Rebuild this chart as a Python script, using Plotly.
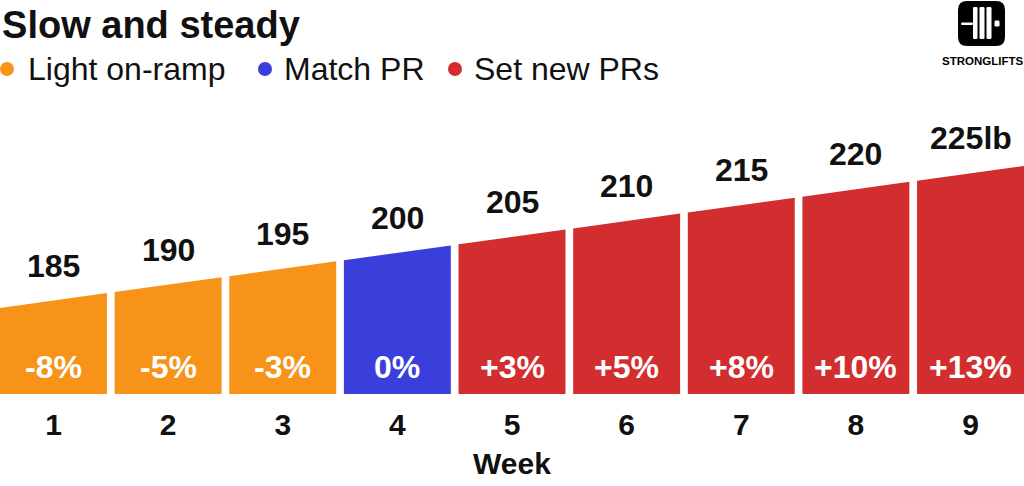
import plotly.graph_objects as go

# data
weeks = [1, 2, 3, 4, 5, 6, 7, 8, 9]
weights = [185, 190, 195, 200, 205, 210, 215, 220, 225]
pct_change = [-8, -5, -3, 0, 3, 5, 8, 10, 13]
phases = ['Light on-ramp', 'Light on-ramp', 'Light on-ramp', 'Match PR',
          'Set new PRs', 'Set new PRs', 'Set new PRs', 'Set new PRs', 'Set new PRs']
phase_names = ['Light on-ramp', 'Match PR', 'Set new PRs']

colors = {'Light on-ramp': '#F8931A', 'Match PR': '#3A3EDB', 'Set new PRs': '#D22E2F'}

W, H = 1024, 486
M_T, M_B = 90, 92
PLOT_H = H - M_T - M_B
Y_BASE = 155.6
PX_PER_LB = 3.18
Y_TOP = Y_BASE + PLOT_H / PX_PER_LB
HALF_W = 0.4665
FONT = 'Liberation Sans, Arial, sans-serif'

# top of every bar follows one straight ramp across the chart
slope = (weights[-1] - weights[0]) / (weeks[-1] - weeks[0])


def px(x):
    return x / W


def py(y):
    return (H - M_B - y) / PLOT_H


fig = go.Figure()

for wk, w, ph in zip(weeks, weights, phases):
    x0, x1 = wk - HALF_W, wk + HALF_W
    fig.add_trace(go.Scatter(
        x=[x0, x1, x1, x0, x0],
        y=[Y_BASE, Y_BASE, w + slope * HALF_W, w - slope * HALF_W, Y_BASE],
        mode='lines', fill='toself', fillcolor=colors[ph],
        line=dict(width=0), hoverinfo='skip', showlegend=False,
    ))

annotations = []
for i, (wk, w, p) in enumerate(zip(weeks, weights, pct_change)):
    label = f'{w}lb' if i == len(weights) - 1 else str(w)
    annotations.append(dict(
        x=wk, y=w, xref='x', yref='y', text=label, showarrow=False,
        yanchor='middle', yshift=35,
        font=dict(family=FONT, size=32, color='#111111', weight='bold'),
    ))
    ptxt = f'+{p}%' if p > 0 else f'{p}%'
    annotations.append(dict(
        x=wk, y=Y_BASE, xref='x', yref='y', text=ptxt, showarrow=False,
        yanchor='middle', yshift=27,
        font=dict(family=FONT, size=32, color='white', weight='bold'),
    ))

# legend row
legend_dot_x = [7, 265, 455]
legend_txt_x = [26, 282, 472]
shapes = []
for name, dx, tx in zip(phase_names, legend_dot_x, legend_txt_x):
    shapes.append(dict(
        type='circle', xref='paper', yref='paper',
        x0=px(dx - 7), x1=px(dx + 7), y0=py(69 + 7), y1=py(69 - 7),
        fillcolor=colors[name], line=dict(width=0),
    ))
    annotations.append(dict(
        x=px(tx), y=py(69), xref='paper', yref='paper', text=name,
        showarrow=False, xanchor='left', yanchor='middle',
        font=dict(family=FONT, size=32, color='#111111'),
    ))

# logo
def rrect(x0, y0, x1, y1, r):
    return (f'M {px(x0 + r)},{py(y0)} L {px(x1 - r)},{py(y0)} '
            f'Q {px(x1)},{py(y0)} {px(x1)},{py(y0 + r)} '
            f'L {px(x1)},{py(y1 - r)} Q {px(x1)},{py(y1)} {px(x1 - r)},{py(y1)} '
            f'L {px(x0 + r)},{py(y1)} Q {px(x0)},{py(y1)} {px(x0)},{py(y1 - r)} '
            f'L {px(x0)},{py(y0 + r)} Q {px(x0)},{py(y0)} {px(x0 + r)},{py(y0)} Z')


shapes.append(dict(type='path', xref='paper', yref='paper',
                   path=rrect(958, 1, 1005, 46, 9), fillcolor='black', line=dict(width=0)))
logo_white = [(961, 22.5, 973, 25), (973, 7, 977.5, 39), (979.5, 7, 984.5, 39),
              (986.5, 7, 991.5, 39), (994.5, 20.5, 999.5, 26.5)]
for x0, y0, x1, y1 in logo_white:
    shapes.append(dict(type='path', xref='paper', yref='paper',
                       path=rrect(x0, y0, x1, y1, min(1.2, (x1 - x0) / 2, (y1 - y0) / 2)),
                       fillcolor='white', line=dict(width=0)))
annotations.append(dict(
    x=px(982), y=py(61), xref='paper', yref='paper', text='STRONGLIFTS',
    showarrow=False, xanchor='center', yanchor='middle',
    font=dict(family=FONT, size=11.5, color='black', weight='bold'),
))

fig.update_layout(
    width=W, height=H,
    margin=dict(l=0, r=0, t=M_T, b=M_B),
    plot_bgcolor='white', paper_bgcolor='white',
    title=dict(text='<b>Slow and steady</b>', xref='container', yref='container',
               x=0.002, xanchor='left', y=1 - 25 / H, yanchor='middle',
               font=dict(family=FONT, size=38, color='#111111')),
    xaxis=dict(range=[weeks[0] - HALF_W, weeks[-1] + HALF_W], tickvals=weeks,
               ticktext=[str(w) for w in weeks], showgrid=False, zeroline=False,
               showline=False, ticks='', ticklabelstandoff=10,
               tickfont=dict(family=FONT, size=30, color='#111111', weight='bold'),
               title=dict(text='Week', standoff=12,
                          font=dict(family=FONT, size=30, color='#111111', weight='bold')),
               fixedrange=True),
    yaxis=dict(range=[Y_BASE, Y_TOP], visible=False, fixedrange=True),
    shapes=shapes,
    annotations=annotations,
    showlegend=False,
)

# drop the browser's default 8px body margin so the chart sits flush at 0,0
fig.write_html('out.html', config={'displayModeBar': False},
               post_script="document.body.style.margin='0';document.body.style.overflow='hidden';")
